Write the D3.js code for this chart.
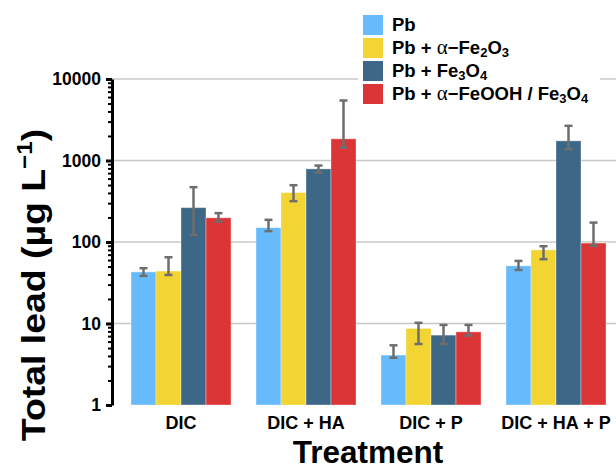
<!DOCTYPE html>
<html>
<head>
<meta charset="utf-8">
<script src="https://cdn.jsdelivr.net/npm/d3@7"></script>
<style>
    body { margin: 0; background: #fff; }
    text { font-family: "Liberation Sans", Arial, sans-serif; font-weight: bold; }
</style>
</head>
<body>
<script>
const treatments = ["DIC", "DIC + HA", "DIC + P", "DIC + HA + P"];
const seriesNames = ["Pb", "Pb + α-Fe2O3", "Pb + Fe3O4", "Pb + α-FeOOH / Fe3O4"];
const colors = ["#67bbfc", "#f2d432", "#3d6787", "#dc3535"];

// bar heights, one array per series (order = treatments)
const pb        = [43, 150, 4.1, 51];
const pbHem     = [44, 404, 8.7, 80];
const pbMag     = [264, 789, 7.2, 1742];
const pbGoeMag  = [198, 1845, 7.9, 97];
// error bar ends (low / high)
const pbLo       = [38.4, 136, 3.8, 45.4];
const pbHi       = [47.7, 187, 5.4, 58.6];
const pbHemLo    = [39.4, 317, 5.6, 61.5];
const pbHemHi    = [65, 498, 10.2, 88.8];
const pbMagLo    = [122, 711, 5.6, 1378];
const pbMagHi    = [471, 867, 9.6, 2663];
const pbGoeMagLo = [178, 1443, 7.1, 90];
const pbGoeMagHi = [226, 5450, 9.6, 173];

const yTicks = [1, 10, 100, 1000, 10000];
const gridTicks = [10, 100, 1000, 10000];

const values = [pb, pbHem, pbMag, pbGoeMag];
const lows = [pbLo, pbHemLo, pbMagLo, pbGoeMagLo];
const highs = [pbHi, pbHemHi, pbMagHi, pbGoeMagHi];

let rows = [];
treatments.forEach((t, i) => {
    seriesNames.forEach((s, j) => {
        rows.push({treatment: t, series: s, si: j, value: values[j][i], lo: lows[j][i], hi: highs[j][i]});
    });
});

const width = 616, height = 471;

const svg = d3.select("body").append("svg")
    .attr("width", width)
    .attr("height", height);

const x0 = d3.scaleBand()
    .domain(treatments)
    .range([118.5, 618.5])
    .paddingInner(0.2)
    .paddingOuter(0.1);

const x1 = d3.scaleBand()
    .domain(seriesNames)
    .range([0, x0.bandwidth()]);

const y = d3.scaleLog()
    .domain([1, 10000])
    .range([405, 79]);

// grid lines
svg.append("g")
    .selectAll("line")
    .data(gridTicks)
    .enter()
    .append("line")
    .attr("x1", 112)
    .attr("x2", width)
    .attr("y1", d => y(d))
    .attr("y2", d => y(d))
    .attr("stroke", "#c8c8c8")
    .attr("stroke-width", 1.5);

// bars
svg.append("g")
    .selectAll("rect")
    .data(rows)
    .enter()
    .append("rect")
    .attr("x", d => x0(d.treatment) + x1(d.series))
    .attr("y", d => y(d.value))
    .attr("width", x1.bandwidth())
    .attr("height", d => y(1) - y(d.value))
    .attr("fill", d => colors[d.si])
    .attr("stroke", "rgba(255,255,255,0.35)")
    .attr("stroke-width", 1);

// error bars
const eb = svg.append("g")
    .attr("stroke", "#6e6e6e")
    .attr("stroke-width", 2.5);

rows.forEach(d => {
    let cx = x0(d.treatment) + x1(d.series) + x1.bandwidth() / 2;
    eb.append("line")
        .attr("x1", cx).attr("x2", cx)
        .attr("y1", y(d.lo)).attr("y2", y(d.hi));
    [d.lo, d.hi].forEach(v => {
        eb.append("line")
            .attr("x1", cx - 4).attr("x2", cx + 4)
            .attr("y1", y(v)).attr("y2", y(v));
    });
});

// minor ticks
let minor = [];
for (let dec = 1; dec < 10000; dec *= 10) {
    for (let k = 2; k < 10; k++) minor.push(dec * k);
}
svg.append("g")
    .attr("transform", "translate(112,0)")
    .call(d3.axisLeft(y).tickValues(minor).tickSize(4).tickFormat(""))
    .call(g => g.select(".domain").remove())
    .call(g => g.selectAll("line").attr("stroke", "#000").attr("stroke-width", 2));

// y axis
svg.append("g")
    .attr("transform", "translate(112,0)")
    .call(d3.axisLeft(y).tickValues(yTicks).tickSize(6).tickSizeOuter(0).tickFormat(d3.format("d")))
    .call(g => g.select(".domain").attr("stroke", "#000").attr("stroke-width", 3))
    .call(g => g.selectAll(".tick line").attr("stroke", "#000").attr("stroke-width", 3))
    .call(g => g.selectAll(".tick text")
        .attr("x", -11)
        .attr("font-size", "17.5px")
        .attr("font-family", "Liberation Sans, Arial, sans-serif")
        .attr("font-weight", "bold")
        .attr("fill", "#000"));

// x labels
svg.append("g")
    .attr("transform", "translate(0,405)")
    .call(d3.axisBottom(x0).tickSize(0))
    .call(g => g.select(".domain").remove())
    .call(g => g.selectAll(".tick text")
        .attr("y", 11)
        .attr("font-size", "18px")
        .attr("font-family", "Liberation Sans, Arial, sans-serif")
        .attr("font-weight", "bold")
        .attr("fill", "#000"));

// axis titles
svg.append("text")
    .attr("x", 368)
    .attr("y", 463)
    .attr("text-anchor", "middle")
    .attr("font-size", "31.5px")
    .text("Treatment");

const yt = svg.append("text")
    .attr("transform", "translate(45,285) rotate(-90) scale(1.1,1)")
    .attr("text-anchor", "middle")
    .attr("font-size", "34px");
yt.append("tspan").text("Total lead (µg L");
yt.append("tspan").attr("dy", -13).attr("font-size", "22px").text("−1");
yt.append("tspan").attr("dy", 13).text(")");

// legend
const legendParts = [
    [["Pb", 0]],
    [["Pb + ", 0], ["α", 0, "serif"], ["−Fe", 0], ["2", 1], ["O", 0], ["3", 1]],
    [["Pb + Fe", 0], ["3", 1], ["O", 0], ["4", 1]],
    [["Pb + ", 0], ["α", 0, "serif"], ["−FeOOH / Fe", 0], ["3", 1], ["O", 0], ["4", 1]]
];

const legend = svg.append("g");
legend.append("rect")
    .attr("x", 358).attr("y", 10)
    .attr("width", 242).attr("height", 98)
    .attr("fill", "#fff");

seriesNames.forEach((s, i) => {
    let gy = 15 + i * 23;
    legend.append("rect")
        .attr("x", 363).attr("y", gy)
        .attr("width", 20).attr("height", 20)
        .attr("fill", colors[i]);
    let t = legend.append("text")
        .attr("x", 392).attr("y", gy + 16)
        .attr("font-size", "18.5px");
    legendParts[i].forEach(p => {
        let sp = t.append("tspan").text(p[0]);
        if (p[1]) sp.attr("font-size", "13px").attr("baseline-shift", "-25%");
        if (p[2]) sp.attr("font-family", "Liberation Serif, serif").attr("font-weight", "normal").attr("font-size", "21px");
    });
});
</script>
</body>
</html>
